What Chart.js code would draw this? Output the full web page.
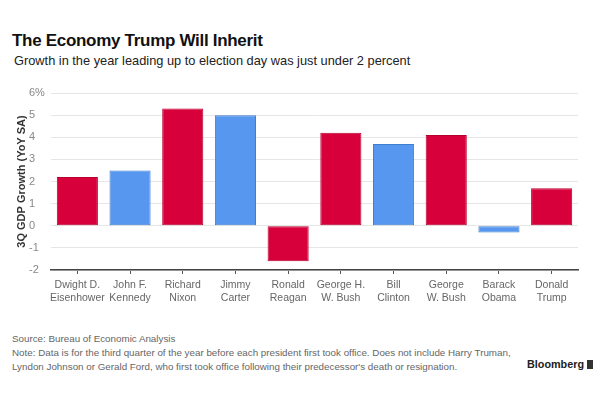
<!DOCTYPE html>
<html>
<head>
<meta charset="utf-8">
<script src="https://cdn.jsdelivr.net/npm/chart.js@4"></script>
<style>
  html, body { margin:0; padding:0; background:#fff; width:600px; height:400px; overflow:hidden; font-family:"Liberation Sans", Arial, sans-serif; }
  #title { position:absolute; left:12px; top:31px; font-size:17px; font-weight:bold; color:#111; letter-spacing:-0.3px; white-space:nowrap; }
  #subtitle { position:absolute; left:14px; top:53px; font-size:12.8px; color:#222; white-space:nowrap; }
  #wrap { position:absolute; left:0; top:80px; width:600px; height:240px; }
  #foot { position:absolute; left:12px; top:332px; font-size:9.8px; color:#666; line-height:14px; white-space:nowrap; }
  #brand { position:absolute; left:527px; top:358px; font-size:10.8px; font-weight:bold; color:#222; white-space:nowrap; }
  #brand span { display:inline-block; width:6px; height:9px; background:#333; margin-left:3px; vertical-align:-1px; }
</style>
</head>
<body>
<div id="title">The Economy Trump Will Inherit</div>
<div id="subtitle">Growth in the year leading up to election day was just under 2 percent</div>
<div id="wrap"><canvas id="c"></canvas></div>
<div id="foot">Source: Bureau of Economic Analysis<br>Note: Data is for the third quarter of the year before each president first took office. Does not include Harry Truman,<br>Lyndon Johnson or Gerald Ford, who first took office following their predecessor's death or resignation.</div>
<div id="brand">Bloomberg<span></span></div>
<script>
const presidents = [["Dwight D.","Eisenhower"],["John F.","Kennedy"],["Richard","Nixon"],["Jimmy","Carter"],["Ronald","Reagan"],["George H.","W. Bush"],["Bill","Clinton"],["George","W. Bush"],["Barack","Obama"],["Donald","Trump"]];
const growth = [2.2, 2.5, 5.3, 5.0, -1.6, 4.2, 3.7, 4.1, -0.3, 1.7];
const party = ["R","D","R","D","R","R","D","R","D","R"];
const yTitle = "3Q GDP Growth (YoY SA)";

const fillCol = { R: "#d7003a", D: "#5797f0" };
const edgeCol = { R: "#b8002f", D: "#3f7fd0" };

const yTitlePlugin = {
  id: "yTitle",
  afterDraw(chart) {
    const ctx = chart.ctx, a = chart.chartArea;
    ctx.save();
    ctx.translate(22, (a.top + a.bottom) / 2);
    ctx.rotate(-Math.PI / 2);
    ctx.font = "bold 11px 'Liberation Sans', Arial, sans-serif";
    ctx.fillStyle = "#333";
    ctx.textAlign = "center";
    ctx.textBaseline = "middle";
    ctx.fillText(yTitle, 0, 0);
    ctx.restore();
  }
};

new Chart(document.getElementById("c"), {
  type: "bar",
  data: {
    labels: presidents,
    datasets: [{
      data: growth,
      backgroundColor: party.map(p => fillCol[p]),
      borderColor: party.map(p => edgeCol[p]),
      borderWidth: 1,
      borderSkipped: false,
      categoryPercentage: 0.78,
      barPercentage: 1.0
    }]
  },
  options: {
    responsive: true,
    maintainAspectRatio: false,
    animation: false,
    layout: { padding: { left: 29, right: 22, top: 13, bottom: 0 } },
    plugins: { legend: { display: false }, tooltip: { enabled: false } },
    scales: {
      x: {
        grid: { offset: false, drawOnChartArea: false, drawTicks: true, tickLength: 4, color: "#555" },
        border: { display: true, color: "#444", width: 1.5 },
        ticks: { color: "#666", font: { size: 10.5, family: "'Liberation Sans', Arial, sans-serif" }, padding: 5, maxRotation: 0, autoSkip: false },
        afterFit(s) { s.height = 50; }
      },
      y: {
        min: -2, max: 6,
        grid: { color: "#e6e6e6", drawTicks: false },
        border: { display: false },
        ticks: {
          stepSize: 1, crossAlign: "far", padding: 6, color: "#888",
          font: { size: 11, family: "'Liberation Sans', Arial, sans-serif" },
          callback: v => v === 6 ? "6%" : String(v)
        },
        afterFit(s) { s.width = 22; }
      }
    }
  },
  plugins: [yTitlePlugin]
});
</script>
</body>
</html>
